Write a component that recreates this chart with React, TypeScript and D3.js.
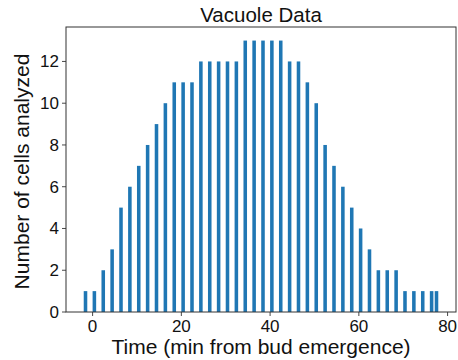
import React from "react";
import * as d3 from "d3";

const times = [-2, 0, 2, 4, 6, 8, 10, 12, 14, 16, 18, 20, 22, 24, 26, 28, 30, 32, 34, 36, 38, 40, 42, 44, 46, 48, 50, 52, 54, 56, 58, 60, 62, 64, 66, 68, 70, 72, 74, 76, 77.1];
const counts = [1, 1, 2, 3, 5, 6, 7, 8, 9, 10, 11, 11, 11, 12, 12, 12, 12, 12, 13, 13, 13, 13, 13, 12, 12, 11, 10, 8, 7, 6, 5, 4, 3, 2, 2, 2, 1, 1, 1, 1, 1];
const xTicks = [0, 20, 40, 60, 80];
const yTicks = [0, 2, 4, 6, 8, 10, 12];
const title = "Vacuole Data";
const xLabel = "Time (min from bud emergence)";
const yLabel = "Number of cells analyzed";

const W = 458;
const H = 360;
const left = 66;
const right = 456;
const top = 27;
const bottom = 312;
const barW = 0.8;

export default function App() {
  const xMin = d3.min(times)!;
  const xMax = d3.max(times)! + barW;
  const pad = (xMax - xMin) * 0.05;
  const x = d3.scaleLinear().domain([xMin - pad, xMax + pad]).range([left, right]);
  const yMax = d3.max(counts)! * 1.05;
  const y = d3.scaleLinear().domain([0, yMax]).range([bottom, top]);
  const font = "'Liberation Sans', Arial, sans-serif";
  return (
    <svg width={W} height={H} style={{ position: "absolute", left: 0, top: 0 }}>
      <rect x={0} y={0} width={W} height={H} fill="white" />
      {times.map((t, i) => (
        <rect
          key={i}
          x={x(t)}
          y={y(counts[i])}
          width={x(t + barW) - x(t)}
          height={y(0) - y(counts[i])}
          fill="#1f77b4"
        />
      ))}
      <rect x={left} y={top} width={right - left} height={bottom - top} fill="none" stroke="#333" strokeWidth={1} />
      {xTicks.map((t) => (
        <g key={t}>
          <line x1={x(t)} x2={x(t)} y1={bottom} y2={bottom + 4} stroke="#333" strokeWidth={0.9} />
          <text x={x(t)} y={bottom + 20} textAnchor="middle" fontFamily={font} fontSize={17} fill="#111">
            {t}
          </text>
        </g>
      ))}
      {yTicks.map((t) => (
        <g key={t}>
          <line x1={left - 4} x2={left} y1={y(t)} y2={y(t)} stroke="#333" strokeWidth={0.9} />
          <text x={left - 7} y={y(t) + 6} textAnchor="end" fontFamily={font} fontSize={17} fill="#111">
            {t}
          </text>
        </g>
      ))}
      <text x={(left + right) / 2} y={22} textAnchor="middle" fontFamily={font} fontSize={20.5} fill="#111">
        {title}
      </text>
      <text x={(left + right) / 2} y={354} textAnchor="middle" fontFamily={font} fontSize={21} fill="#111">
        {xLabel}
      </text>
      <text
        transform={`translate(29, ${(top + bottom) / 2 + 2}) rotate(-90)`}
        textAnchor="middle"
        fontFamily={font}
        fontSize={21}
        fill="#111"
      >
        {yLabel}
      </text>
    </svg>
  );
}
